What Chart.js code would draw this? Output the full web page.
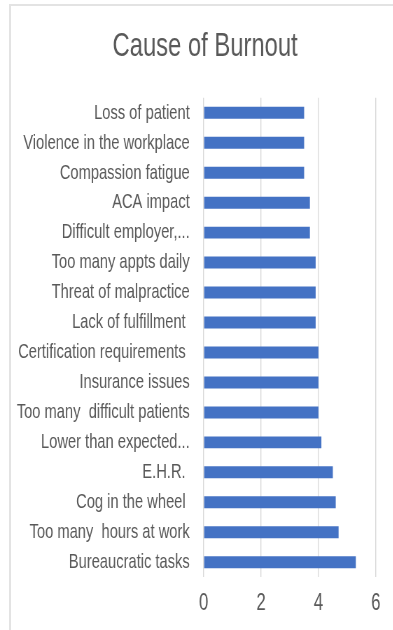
<!DOCTYPE html>
<html>
<head>
<meta charset="utf-8">
<script src="https://cdn.jsdelivr.net/npm/chart.js@4"></script>
<style>
  html, body { margin: 0; padding: 0; background: #fff; overflow: hidden; }
  body { width: 393px; height: 630px; position: relative; }
  .frame {
    position: absolute; left: 9px; top: 4px; width: 600px; height: 700px;
    border-top: 2px solid #e3e3e3; border-left: 2px solid #e3e3e3;
  }
  .wrap {
    position: absolute; left: 0; top: 0; width: 586px; height: 630px;
    transform: scaleX(0.7); transform-origin: 0 0;
  }
</style>
</head>
<body>
<div class="frame"></div>
<div class="wrap"><canvas id="myChart" width="586" height="630"></canvas></div>
<script>
const causes = [
    "Loss of patient",
    "Violence in the workplace",
    "Compassion fatigue",
    "ACA impact",
    "Difficult employer,...",
    "Too many appts daily",
    "Threat of malpractice",
    "Lack of fulfillment ",
    "Certification requirements ",
    "Insurance issues",
    "Too many  difficult patients",
    "Lower than expected...",
    "E.H.R. ",
    "Cog in the wheel ",
    "Too many  hours at work",
    "Bureaucratic tasks",
]
const scores = [3.5, 3.5, 3.5, 3.7, 3.7, 3.9, 3.9, 3.9, 4.0, 4.0, 4.0, 4.1, 4.5, 4.6, 4.7, 5.3]
const xTicks = [0, 2, 4, 6]

const grey = '#595959'
const font = '"Liberation Sans", Arial, sans-serif'

// long category names reach past the left padding, so let the y labels use the full width
const widenLabels = {
    id: 'widenLabels',
    afterLayout(chart) {
        chart.scales.y.left = 0
    },
}

const ctx = document.getElementById('myChart').getContext('2d')

const myChart = new Chart(ctx, {
    type: 'bar',
    data: {
        labels: causes,
        datasets: [
            {
                label: "Cause of Burnout",
                data: scores,
                backgroundColor: "#4472C4",
                categoryPercentage: 1,
                barPercentage: 0.4,
            },
        ],
    },
    options: {
        indexAxis: 'y',
        responsive: false,
        animation: false,
        layout: { padding: { left: 49, right: 49, top: 0, bottom: 0 } },
        plugins: {
            legend: { display: false },
            tooltip: { enabled: false },
            title: {
                display: true,
                text: 'Cause of Burnout',
                color: grey,
                font: { family: font, size: 34, weight: 'normal' },
                padding: { top: 26, bottom: 31 },
            },
        },
        scales: {
            x: {
                min: 0,
                max: 6,
                afterBuildTicks: (scale) => { scale.ticks = xTicks.map(v => ({ value: v })) },
                grid: { color: '#d9d9d9', lineWidth: 1.4, drawTicks: false },
                border: { display: false },
                ticks: { color: grey, padding: 12, font: { family: font, size: 24 } },
            },
            y: {
                grid: { display: false },
                border: { display: false },
                afterFit: (scale) => { scale.width = 242 },
                ticks: { color: grey, padding: 12, autoSkip: false, font: { family: font, size: 21 } },
            },
        },
    },
    plugins: [widenLabels],
});
</script>
</body>
</html>
